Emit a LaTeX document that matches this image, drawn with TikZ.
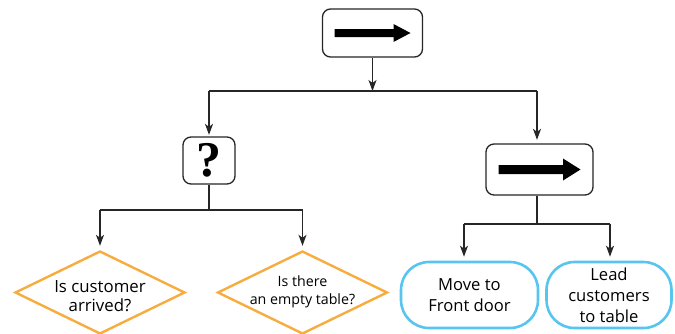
\documentclass[tikz,border=0pt]{standalone}
\usepackage{fontspec}
\setmainfont{Open Sans}
\newfontfamily\qmarkfont{Liberation Serif}
\usetikzlibrary{arrows.meta,shapes.geometric,calc}
\definecolor{decor}{RGB}{246,172,62}
\definecolor{actcol}{RGB}{88,196,240}
\tikzset{
  conn/.style={line width=1.3pt,draw=black!85},
  arr/.style={conn,-{Stealth[length=11pt,width=8pt,inset=3pt]}},
  ctrlbox/.style={draw=black!85,line width=1.3pt,rounded corners=8pt,fill=white,inner sep=0pt},
  decision/.style={diamond,draw=decor,line width=2.4pt,inner sep=0pt,align=center},
  action/.style={draw=actcol,line width=2.6pt,rounded corners=28pt,align=center,inner sep=0pt},
}
\begin{document}
\begin{tikzpicture}[x=1pt,y=-1pt]
\useasboundingbox (0,0) rectangle (675,333);

% control nodes
\node[ctrlbox,minimum width=52pt,minimum height=47pt,text height=0pt,text depth=0pt] (sel) at (209,160.5) {};
\node (selq) at (sel.center) {\fontsize{50}{50}\selectfont\qmarkfont\bfseries ?};
\node[ctrlbox,minimum width=100pt,minimum height=48pt] (seqtop) at (372.5,33) {};
\node[ctrlbox,minimum width=107pt,minimum height=51pt] (seqr) at (539.5,169.5) {};

% arrow glyphs inside the sequence boxes
\fill[shift={(seqtop.center)}] (-38,-4) -- (21,-4) -- (21,-9) -- (38,0) -- (21,9) -- (21,4) -- (-38,4) -- cycle;
\fill[shift={(seqr.center)}] (-41,-4.5) -- (23.5,-4.5) -- (23.5,-11) -- (41,0) -- (23.5,11) -- (23.5,4.5) -- (-41,4.5) -- cycle;

% conditions
\node[decision,minimum width=170pt,minimum height=83pt] (c1) at (100,292.5) {};
\node[font=\fontsize{16.8}{19.5}\selectfont,align=center] (c1t) at (100,296) {Is customer\\arrived?};
\node[decision,minimum width=170pt,minimum height=83pt] (c2) at (302.5,292.5) {};
\node[font=\fontsize{14.2}{18}\selectfont,align=center] (c2t) at (302.5,292) {Is there\\an empty table?};

% actions
\node[action,minimum width=137pt,minimum height=66pt,font=\fontsize{16.6}{21}\selectfont] (a1) at (469.5,295) {Move to\\Front door};
\node[action,minimum width=125pt,minimum height=66pt,font=\fontsize{16.6}{21}\selectfont] (a2) at (609,295) {Lead\\customers\\to table};

% junction points
\coordinate (j1) at (372.5,91);
\coordinate (j1l) at (209,91);
\coordinate (j1r) at (537,91);
\coordinate (j2) at (209,210);
\coordinate (j2l) at (100,210);
\coordinate (j2r) at (302.5,210);
\coordinate (j3) at (537,224);
\coordinate (j3l) at (464,224);
\coordinate (j3r) at (610,224);

% connectors
\draw[arr] (seqtop.south) -- (j1);
\draw[conn] (j1l) -- (j1r);
\draw[arr,shorten >=1.5pt] (j1l) -- (sel.north);
\draw[arr,shorten >=3.5pt] (j1r) -- (j1r |- seqr.north);

\draw[conn] (sel.south) -- (j2);
\draw[conn] (j2l) -- (j2r);
\draw[arr,shorten >=4pt] (j2l) -- (c1.north);
\draw[arr,shorten >=4pt] (j2r) -- (c2.north);

\draw[conn] (j3 |- seqr.south) -- (j3);
\draw[conn] (j3l) -- (j3r);
\draw[arr,shorten >=4pt] (j3l) -- (j3l |- a1.north);
\draw[arr,shorten >=4pt] (j3r) -- (j3r |- a2.north);
\end{tikzpicture}
\end{document}
